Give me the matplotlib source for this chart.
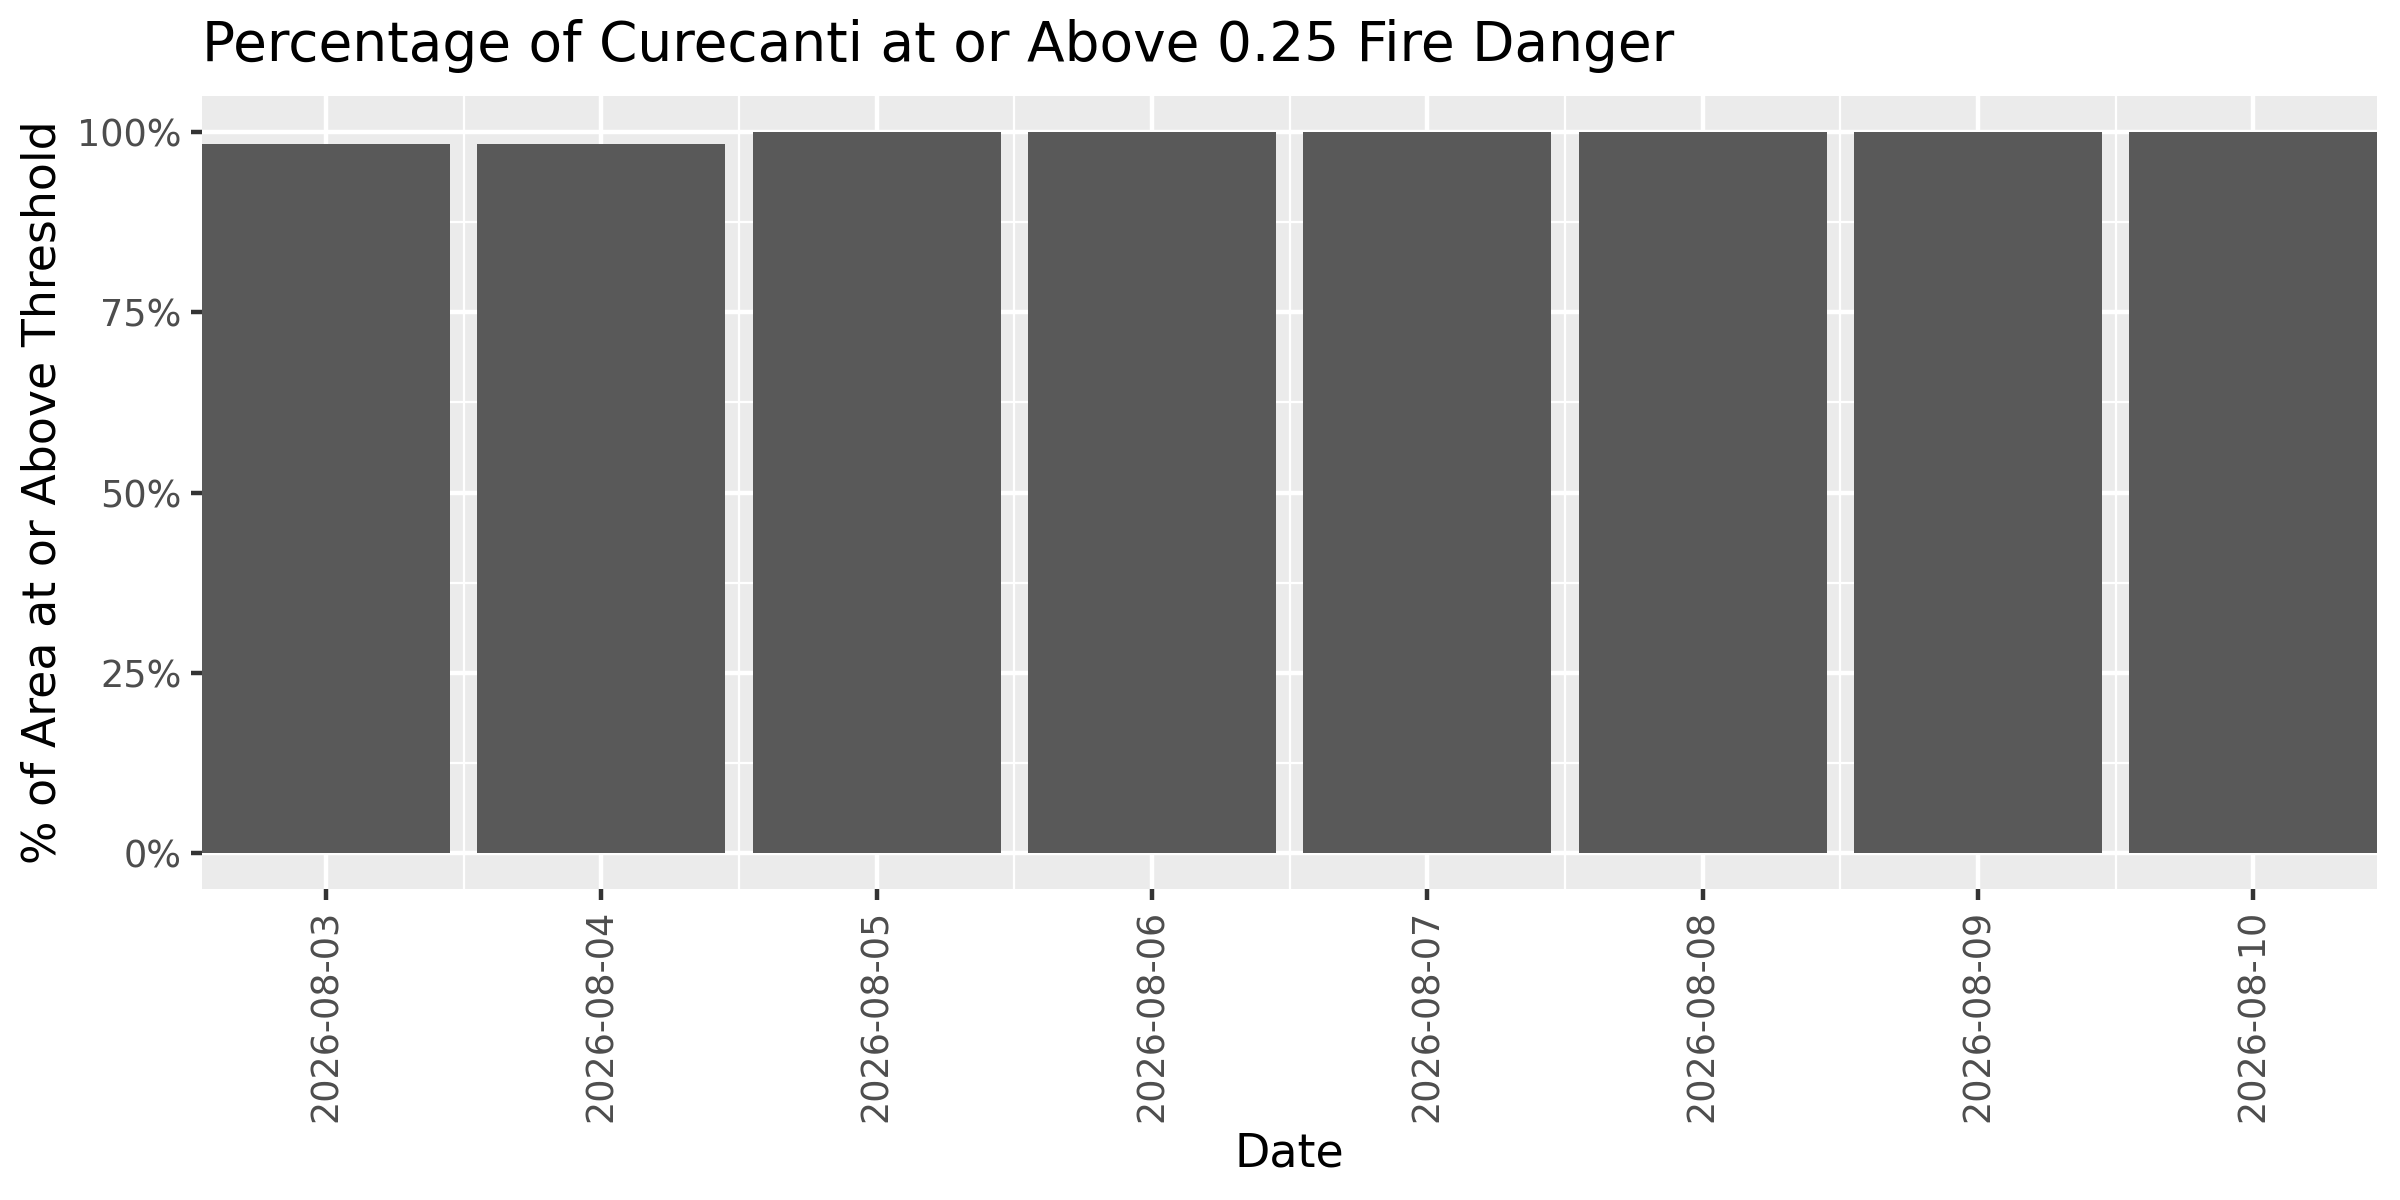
import matplotlib
matplotlib.use("Agg")
import matplotlib.pyplot as plt
import numpy as np

dates = ["2026-08-03", "2026-08-04", "2026-08-05", "2026-08-06",
         "2026-08-07", "2026-08-08", "2026-08-09", "2026-08-10"]
pct_values = [98.3, 98.4, 100, 100, 100, 100, 100, 100]
y_ticks = [0, 25, 50, 75, 100]
y_tick_labels = ["0%", "25%", "50%", "75%", "100%"]

title = "Percentage of Curecanti at or Above 0.25 Fire Danger"
x_title = "Date"
y_title = "% of Area at or Above Threshold"

plt.rcParams['font.family'] = ['DejaVu Sans']

fig = plt.figure(figsize=(8, 4), dpi=300)
left, right, bottom, top = 0.0842, 0.9905, 0.259, 0.92
ax = fig.add_axes([left, bottom, right - left, top - bottom])

ax.set_facecolor("#EBEBEB")
for s in ax.spines.values():
    s.set_visible(False)

x = np.arange(len(dates))
ax.bar(x, pct_values, width=0.9, color="#595959", zorder=3)

ax.set_xlim(-0.45, len(dates) - 1 + 0.45)
ax.set_ylim(-5, 105)

ax.set_xticks(x)
ax.set_xticklabels(dates, rotation=90, fontsize=8.8, color="#4D4D4D")
ax.set_xticks(x[:-1] + 0.5, minor=True)
ax.set_yticks(y_ticks)
ax.set_yticklabels(y_tick_labels, fontsize=8.8, color="#4D4D4D")
ax.set_yticks([12.5, 37.5, 62.5, 87.5], minor=True)

ax.tick_params(axis="both", which="major", length=2.75, width=1.07,
               color="#333333", pad=2.2)
ax.tick_params(axis="both", which="minor", length=0)

ax.grid(which="major", color="white", linewidth=1.07, zorder=1)
ax.grid(which="minor", color="white", linewidth=0.53, zorder=1)
ax.set_axisbelow(True)

ax.set_xlabel(x_title, fontsize=11, color="black")
ax.set_ylabel(y_title, fontsize=11, color="black")

# position axis titles (figure fraction -> axes fraction)
fx_date_y = 0.038
ax.xaxis.set_label_coords(0.5, (fx_date_y - bottom) / (top - bottom))
ax.xaxis.label.set_va("center")
fy_x = 0.018
ax.yaxis.set_label_coords((fy_x - left) / (right - left), 0.5)
ax.yaxis.label.set_va("center")

fig.text(left, 0.962, title, fontsize=13.2, color="black", ha="left", va="center")

fig.savefig("out.png", dpi=300, facecolor="white")
